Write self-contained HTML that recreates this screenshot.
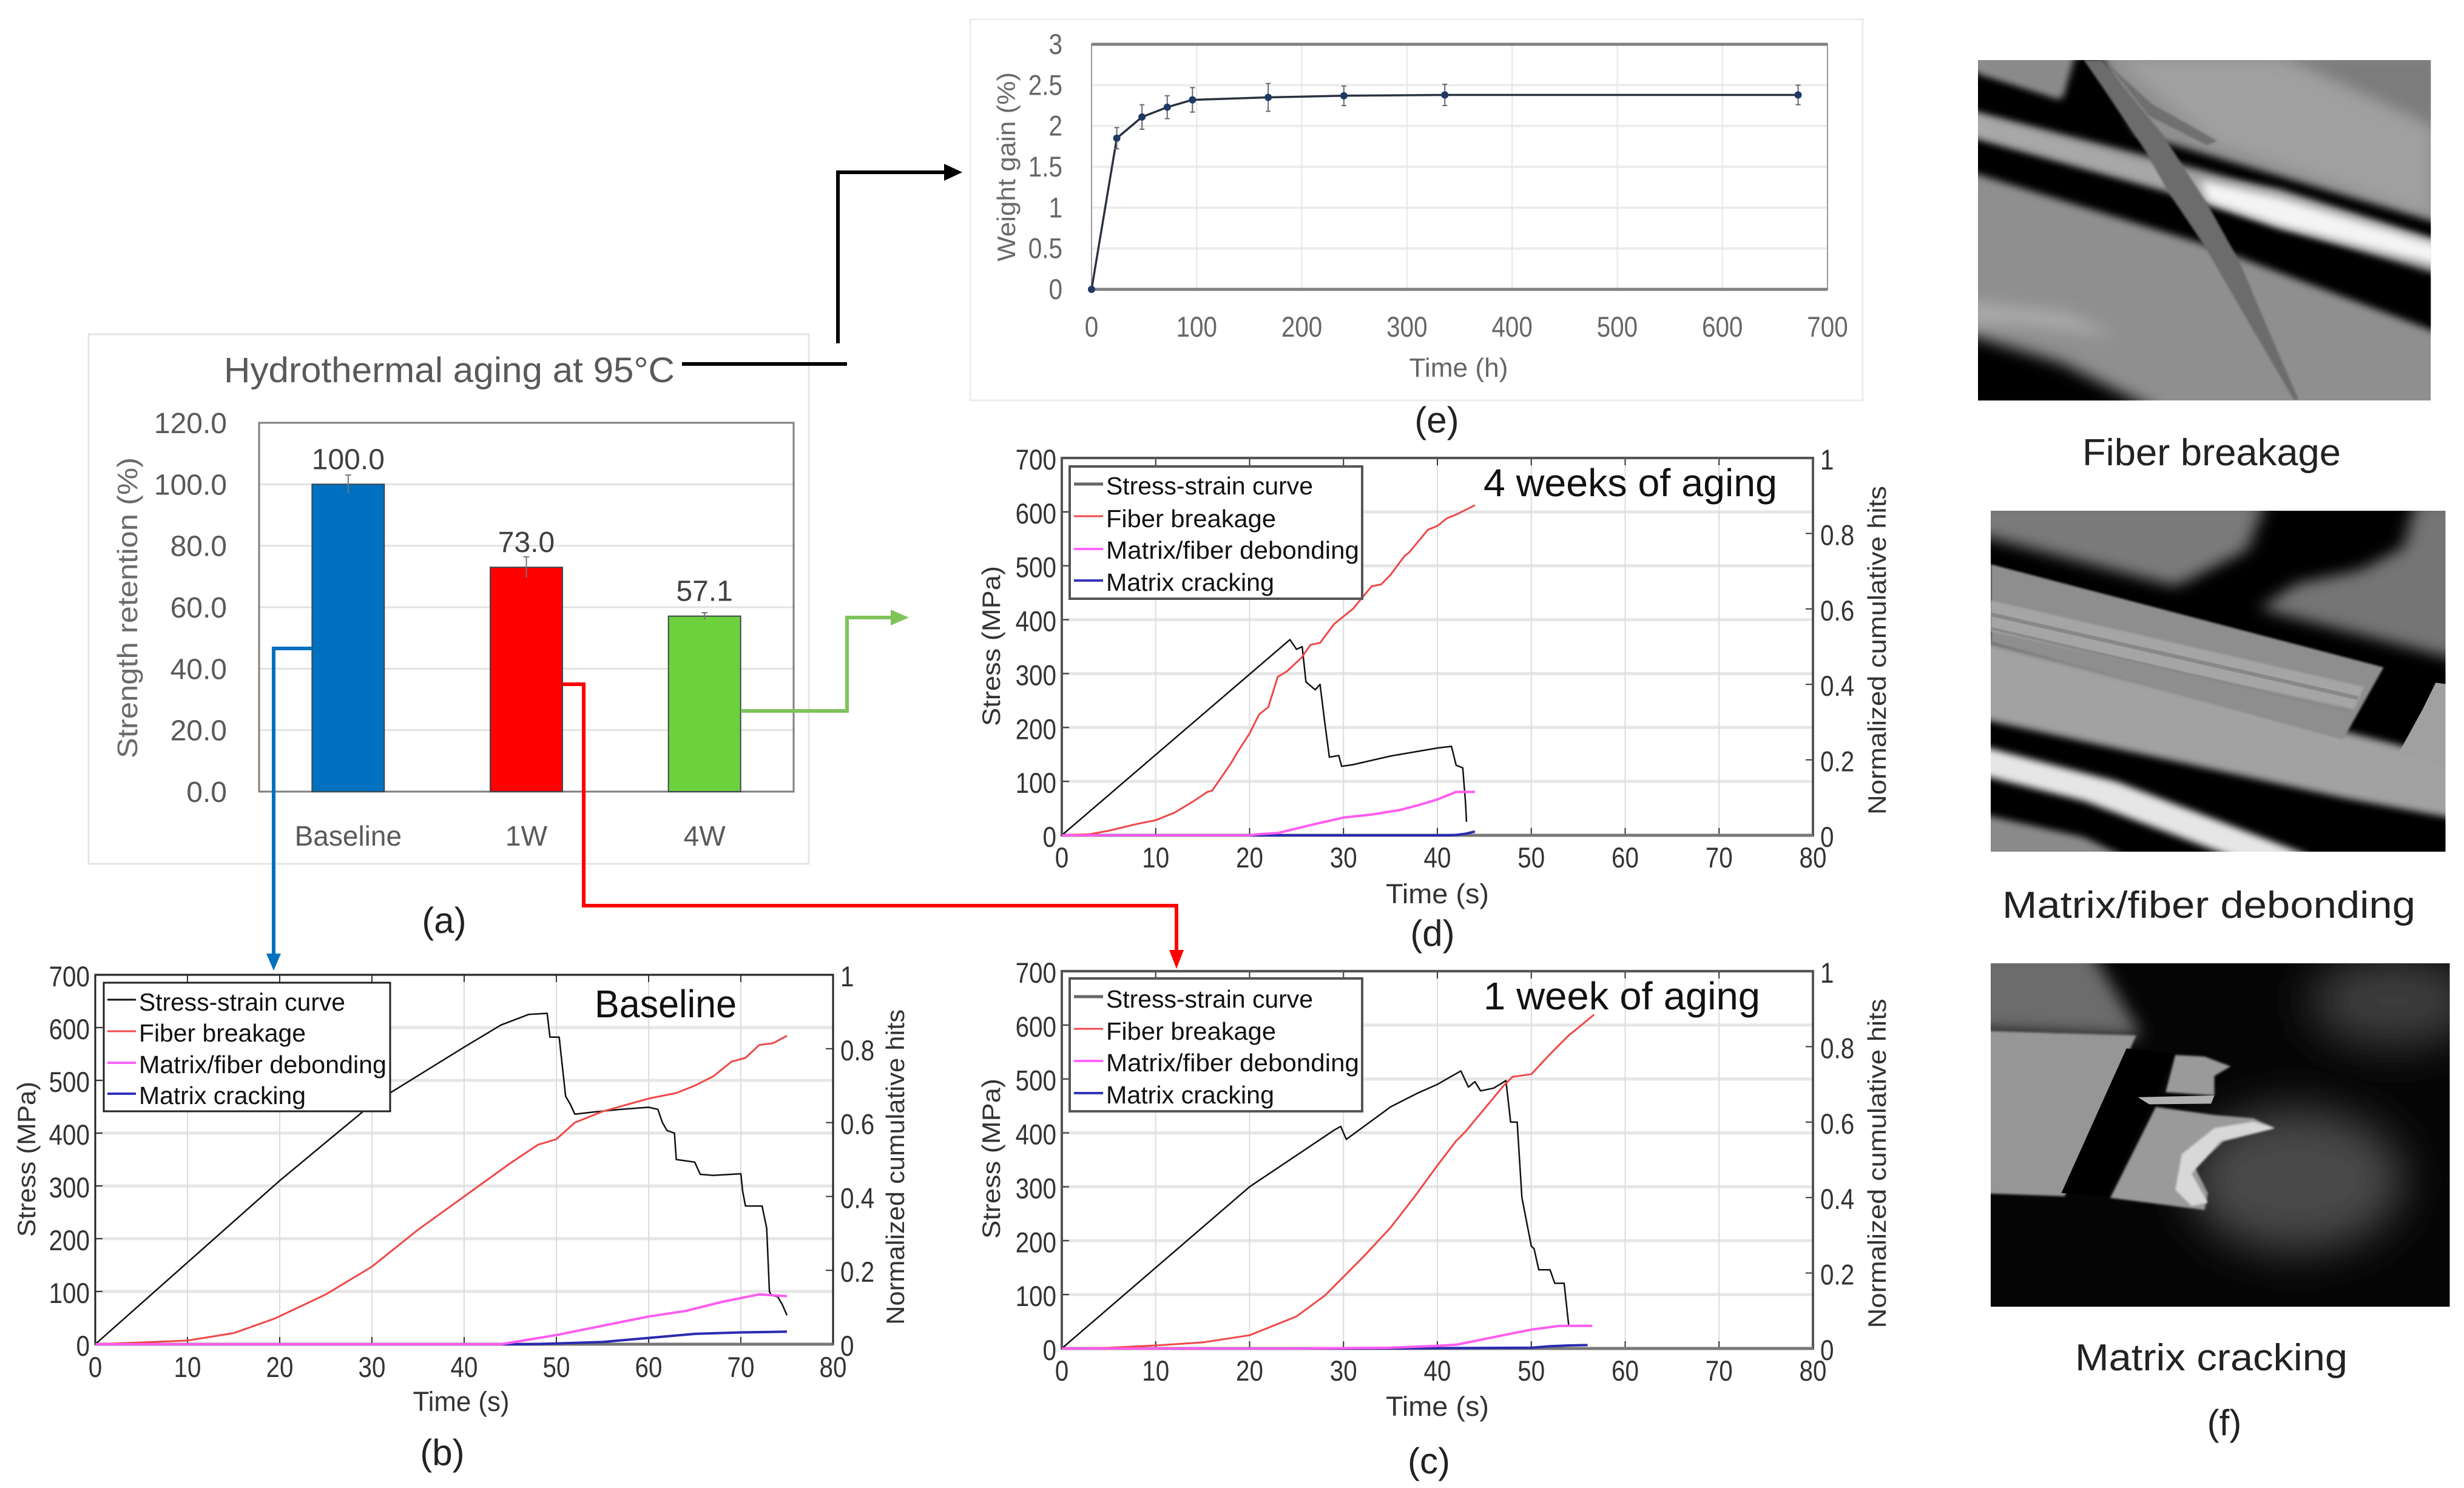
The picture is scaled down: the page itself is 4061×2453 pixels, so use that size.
<!DOCTYPE html>
<html lang="en">
<head>
<meta charset="utf-8">
<title>Hydrothermal aging of composite: strength, acoustic emission and weight gain</title>
<style>
html,body{margin:0;padding:0;background:#fff;}
svg{display:block;font-family:"Liberation Sans",sans-serif;}
</style>
</head>
<body>
<svg id="figure" xmlns="http://www.w3.org/2000/svg" width="4061" height="2453" viewBox="0 0 4061 2453">
<defs>
  <filter id="blur-xs" x="-20%" y="-20%" width="140%" height="140%"><feGaussianBlur stdDeviation="3.5"/></filter>
  <filter id="blur-s" x="-30%" y="-30%" width="160%" height="160%"><feGaussianBlur stdDeviation="13"/></filter>
  <filter id="blur-m" x="-30%" y="-30%" width="160%" height="160%"><feGaussianBlur stdDeviation="26"/></filter>
  <filter id="blur-l" x="-50%" y="-50%" width="200%" height="200%"><feGaussianBlur stdDeviation="70"/></filter>
  <clipPath id="clip-img1"><rect x="75" y="60" width="1391" height="1158"/></clipPath>
  <clipPath id="clip-img2"><rect x="113" y="48" width="1397" height="1224"/></clipPath>
  <clipPath id="clip-img3"><rect x="113" y="53" width="1410" height="1057"/></clipPath>
</defs>
<rect width="4061" height="2453" fill="#fff"/>

<!-- Panel (a) -->
<g>
  <rect x="146" y="551" width="1187" height="873" fill="#fff" stroke="#e4e4e4" stroke-width="3"/>
  <text x="369" y="630" font-size="58" fill="#595959" textLength="743" lengthAdjust="spacingAndGlyphs">Hydrothermal aging at 95°C</text>
  <g id="chart-a"></g>
  <text x="0" y="0" transform="translate(226,1002) rotate(-90)" text-anchor="middle" font-size="46" fill="#6a6a6a" textLength="496" lengthAdjust="spacingAndGlyphs">Strength retention (%)</text>
  <text x="732" y="1538" text-anchor="middle" font-size="60" fill="#222">(a)</text>
</g>

<!-- Panel (e) -->
<g>
  <rect x="1599" y="32" width="1471" height="628" fill="#fff" stroke="#ececec" stroke-width="3"/>
  <g id="chart-e"></g>
  <text x="0" y="0" transform="translate(1673,275) rotate(-90)" text-anchor="middle" font-size="42" fill="#6a6a6a" textLength="312" lengthAdjust="spacingAndGlyphs">Weight gain (%)</text>
  <text x="2404" y="621" text-anchor="middle" font-size="44" fill="#666" textLength="163" lengthAdjust="spacingAndGlyphs">Time (h)</text>
  <text x="2368" y="713" text-anchor="middle" font-size="60" fill="#222">(e)</text>
</g>

<!-- Panel (b) -->
<g>
  <g id="chart-b"></g>
  <g>
    <rect x="171" y="1620" width="472" height="212" fill="#fff" stroke="#222" stroke-width="3"/>
    <line x1="177" x2="224" y1="1648" y2="1648" stroke="#111" stroke-width="3"/>
    <text x="229" y="1666" font-size="41" fill="#111" textLength="340" lengthAdjust="spacingAndGlyphs">Stress-strain curve</text>
    <line x1="177" x2="224" y1="1700" y2="1700" stroke="#f04848" stroke-width="3"/>
    <text x="229" y="1717" font-size="41" fill="#111" textLength="275" lengthAdjust="spacingAndGlyphs">Fiber breakage</text>
    <line x1="177" x2="224" y1="1752" y2="1752" stroke="#ff66ff" stroke-width="4"/>
    <text x="229" y="1769" font-size="41" fill="#111" textLength="408" lengthAdjust="spacingAndGlyphs">Matrix/fiber debonding</text>
    <line x1="177" x2="224" y1="1803" y2="1803" stroke="#3333bb" stroke-width="4"/>
    <text x="229" y="1820" font-size="41" fill="#111" textLength="275" lengthAdjust="spacingAndGlyphs">Matrix cracking</text>
  </g>
  <text x="980" y="1677" font-size="64" fill="#111" textLength="234" lengthAdjust="spacingAndGlyphs">Baseline</text>
  <text x="0" y="0" transform="translate(58,1911) rotate(-90)" text-anchor="middle" font-size="42" fill="#333" textLength="256" lengthAdjust="spacingAndGlyphs">Stress (MPa)</text>
  <text x="0" y="0" transform="translate(1490,1924) rotate(-90)" text-anchor="middle" font-size="42" fill="#333" textLength="520" lengthAdjust="spacingAndGlyphs">Normalized cumulative hits</text>
  <text x="760" y="2326" text-anchor="middle" font-size="45" fill="#333" textLength="159" lengthAdjust="spacingAndGlyphs">Time (s)</text>
  <text x="729" y="2415" text-anchor="middle" font-size="60" fill="#222">(b)</text>
</g>

<!-- Panel (d) -->
<g>
  <g id="chart-d"></g>
  <g>
    <rect x="1763" y="769" width="482" height="218" fill="#fff" stroke="#555" stroke-width="4"/>
    <line x1="1770" x2="1818" y1="798" y2="798" stroke="#666" stroke-width="5"/>
    <text x="1823" y="815" font-size="41" fill="#111" textLength="341" lengthAdjust="spacingAndGlyphs">Stress-strain curve</text>
    <line x1="1770" x2="1818" y1="851" y2="851" stroke="#f04848" stroke-width="3"/>
    <text x="1823" y="869" font-size="41" fill="#111" textLength="280" lengthAdjust="spacingAndGlyphs">Fiber breakage</text>
    <line x1="1770" x2="1818" y1="905" y2="905" stroke="#ff66ff" stroke-width="4"/>
    <text x="1823" y="921" font-size="41" fill="#111" textLength="417" lengthAdjust="spacingAndGlyphs">Matrix/fiber debonding</text>
    <line x1="1770" x2="1818" y1="957" y2="957" stroke="#3333bb" stroke-width="4"/>
    <text x="1823" y="974" font-size="41" fill="#111" textLength="277" lengthAdjust="spacingAndGlyphs">Matrix cracking</text>
  </g>
  <text x="2445" y="818" font-size="64" fill="#111" textLength="484" lengthAdjust="spacingAndGlyphs">4 weeks of aging</text>
  <text x="0" y="0" transform="translate(1648,1065) rotate(-90)" text-anchor="middle" font-size="42" fill="#333" textLength="264" lengthAdjust="spacingAndGlyphs">Stress (MPa)</text>
  <text x="0" y="0" transform="translate(3108,1072) rotate(-90)" text-anchor="middle" font-size="42" fill="#333" textLength="542" lengthAdjust="spacingAndGlyphs">Normalized cumulative hits</text>
  <text x="2369" y="1489" text-anchor="middle" font-size="45" fill="#333" textLength="170" lengthAdjust="spacingAndGlyphs">Time (s)</text>
  <text x="2361" y="1559" text-anchor="middle" font-size="60" fill="#222">(d)</text>
</g>

<!-- Panel (c) -->
<g>
  <g id="chart-c"></g>
  <g>
    <rect x="1763" y="1613" width="482" height="219" fill="#fff" stroke="#555" stroke-width="4"/>
    <line x1="1770" x2="1818" y1="1643" y2="1643" stroke="#666" stroke-width="5"/>
    <text x="1823" y="1661" font-size="41" fill="#111" textLength="341" lengthAdjust="spacingAndGlyphs">Stress-strain curve</text>
    <line x1="1770" x2="1818" y1="1696" y2="1696" stroke="#f04848" stroke-width="3"/>
    <text x="1823" y="1714" font-size="41" fill="#111" textLength="280" lengthAdjust="spacingAndGlyphs">Fiber breakage</text>
    <line x1="1770" x2="1818" y1="1749" y2="1749" stroke="#ff66ff" stroke-width="4"/>
    <text x="1823" y="1766" font-size="41" fill="#111" textLength="417" lengthAdjust="spacingAndGlyphs">Matrix/fiber debonding</text>
    <line x1="1770" x2="1818" y1="1802" y2="1802" stroke="#3333bb" stroke-width="4"/>
    <text x="1823" y="1819" font-size="41" fill="#111" textLength="277" lengthAdjust="spacingAndGlyphs">Matrix cracking</text>
  </g>
  <text x="2445" y="1664" font-size="64" fill="#111" textLength="456" lengthAdjust="spacingAndGlyphs">1 week of aging</text>
  <text x="0" y="0" transform="translate(1648,1910) rotate(-90)" text-anchor="middle" font-size="42" fill="#333" textLength="264" lengthAdjust="spacingAndGlyphs">Stress (MPa)</text>
  <text x="0" y="0" transform="translate(3108,1918) rotate(-90)" text-anchor="middle" font-size="42" fill="#333" textLength="543" lengthAdjust="spacingAndGlyphs">Normalized cumulative hits</text>
  <text x="2369" y="2334" text-anchor="middle" font-size="45" fill="#333" textLength="170" lengthAdjust="spacingAndGlyphs">Time (s)</text>
  <text x="2355" y="2429" text-anchor="middle" font-size="60" fill="#222">(c)</text>
</g>

<!-- Connectors -->
<g fill="none" stroke-width="6">
  <polyline points="1124,600 1396,600" stroke="#000"/>
  <polyline points="1381,566 1381,284 1560,284" stroke="#000"/>
  <polygon points="1586,284 1556,270 1556,298" fill="#000" stroke="none"/>
  <polyline points="514,1069 451,1069 451,1576" stroke="#0070c0"/>
  <polygon points="451,1600 439,1572 463,1572" fill="#0070c0" stroke="none"/>
  <polyline points="927,1128 962,1128 962,1493 1939,1493 1939,1570" stroke="#ff0000"/>
  <polygon points="1939,1597 1927,1566 1951,1566" fill="#ff0000" stroke="none"/>
  <polyline points="1221,1172 1396,1172 1396,1018 1472,1018" stroke="#7fc35a"/>
  <polygon points="1498,1018 1468,1005 1468,1031" fill="#7fc35a" stroke="none"/>
</g>

<!-- Micrograph 1 -->
<g transform="translate(3260,99) scale(.5365,.4847) translate(-75,-60)" clip-path="url(#clip-img1)">
  <rect x="75" y="60" width="1391" height="1158" fill="#8f8f8f"/>
  <polygon points="500,60 1466,60 1466,590 800,340" fill="#a0a0a0" filter="url(#blur-m)"/>
  <polygon points="1000,40 1500,40 1500,300" fill="#7c7c7c" filter="url(#blur-m)"/>
  <polygon points="20,80 330,195 375,40 450,40 560,310 1520,625 1520,690 750,430 20,225" fill="#000" filter="url(#blur-s)"/>
  <polygon points="75,40 350,40 330,180 75,100" fill="#8a8a8a" filter="url(#blur-s)"/>
  <polygon points="20,310 700,520 1520,800 1520,1000 780,690 20,430" fill="#000" filter="url(#blur-s)"/>
  <polygon points="40,235 700,440 1000,500 1500,680 1500,770 1000,630 700,510 40,310" fill="#a8a8a8" filter="url(#blur-s)"/>
  <polygon points="760,470 1000,530 1500,695 1500,760 1000,620 780,540" fill="#f4f4f4" filter="url(#blur-s)"/>
  <polygon points="20,985 330,1090 640,1260 20,1260" fill="#000" filter="url(#blur-m)"/>
  <polygon points="40,880 350,920 500,1000 200,960 40,960" fill="#aaaaaa" filter="url(#blur-m)"/>
  <polygon points="400,60 455,60 640,310 780,550 880,750 960,960 1060,1215 1045,1215 900,940 770,690 660,510 590,370 450,140" fill="#6c6c6c" filter="url(#blur-xs)"/>
  <polygon points="470,70 610,210 810,335 780,350 600,250" fill="#707070" filter="url(#blur-xs)"/>
</g>
<text x="3432" y="767" font-size="62" fill="#222" textLength="426" lengthAdjust="spacingAndGlyphs">Fiber breakage</text>

<!-- Micrograph 2 -->
<g transform="translate(3281,842) scale(.5365,.4592) translate(-113,-48)" clip-path="url(#clip-img2)">
  <rect x="113" y="48" width="1397" height="1224" fill="#000"/>
  <polygon points="60,10 960,10 900,190 680,320 60,130" fill="#7a7a7a" filter="url(#blur-m)"/>
  <polygon points="1420,10 1570,10 1570,590 940,400 1050,310 1250,260 1380,180" fill="#757575" filter="url(#blur-m)"/>
  <polygon points="60,500 1570,950 1570,1160 1200,1080 60,790" fill="#a2a2a2" filter="url(#blur-s)"/>
  <polygon points="113,240 1320,610 1195,870 113,520" fill="#8e8e8e" filter="url(#blur-xs)"/>
  <polygon points="113,370 1260,680 1230,760 113,480" fill="#a5a5a5" filter="url(#blur-xs)"/>
  <polyline points="113,420 1240,720" stroke="#888" stroke-width="14" fill="none"/>
  <polyline points="113,470 1220,770" stroke="#8a8a8a" stroke-width="10" fill="none"/>
  <polygon points="60,885 500,1020 1100,1290 900,1310 400,1090 60,990" fill="#e6e6e6" filter="url(#blur-s)"/>
  <polygon points="60,1130 400,1220 560,1310 60,1310" fill="#8a8a8a" filter="url(#blur-s)"/>
  <polygon points="1480,665 1510,670 1510,960 1365,920 1440,760" fill="#a0a0a0"/>
</g>
<text x="3300" y="1513" font-size="62" fill="#222" textLength="681" lengthAdjust="spacingAndGlyphs">Matrix/fiber debonding</text>

<!-- Micrograph 3 -->
<g transform="translate(3281,1588) scale(.5365,.5357) translate(-113,-53)" clip-path="url(#clip-img3)">
  <rect x="113" y="53" width="1410" height="1057" fill="#050505"/>
  <ellipse cx="1050" cy="720" rx="330" ry="220" fill="#484848" filter="url(#blur-l)"/>
  <ellipse cx="1350" cy="170" rx="260" ry="140" fill="#3c3c3c" filter="url(#blur-l)"/>
  <polygon points="50,-20 400,-20 580,280 50,260" fill="#6c6c6c" filter="url(#blur-m)"/>
  <polygon points="60,260 560,275 340,770 60,760" fill="#969696" filter="url(#blur-xs)"/>
  <polygon points="530,315 680,330 470,770 330,760" fill="#000"/>
  <polygon points="680,335 770,340 850,370 800,400 800,460 650,450" fill="#9a9a9a" filter="url(#blur-xs)"/>
  <polygon points="620,495 800,520 920,530 985,560 830,600 740,680 780,760 770,812 480,775" fill="#9a9a9a" filter="url(#blur-xs)"/>
  <polygon points="700,640 800,560 920,540 985,560 820,600 730,700 780,790 730,800 680,750" fill="#d8d8d8" filter="url(#blur-xs)"/>
  <polygon points="565,465 800,460 790,485 600,487" fill="#b0b0b0"/>
</g>
<text x="3420" y="2259" font-size="62" fill="#222" textLength="449" lengthAdjust="spacingAndGlyphs">Matrix cracking</text>
<text x="3666" y="2366" text-anchor="middle" font-size="60" fill="#222">(f)</text>

<script>
// ---- Panel (a) data ----
var retentionCategories = ['Baseline', '1W', '4W'];
var retentionValues = [100.0, 73.0, 57.1];
var retentionLabels = ['100.0', '73.0', '57.1'];
var retentionErrors = [3.0, 3.4, 1.1];
var retentionColors = ['#0070c0', '#ff0000', '#6dd03d'];
var retentionTicks = [0, 20, 40, 60, 80, 100, 120];
var retentionTickLabels = ['0.0', '20.0', '40.0', '60.0', '80.0', '100.0', '120.0'];

// ---- Panel (e) data ----
var weightHours = [0, 24, 48, 72, 96, 168, 240, 336, 672];
var weightGain = [0, 1.85, 2.11, 2.23, 2.32, 2.35, 2.37, 2.38, 2.38];
var weightErrors = [0, 0.13, 0.15, 0.14, 0.15, 0.17, 0.12, 0.13, 0.12];
var weightXTicks = [0, 100, 200, 300, 400, 500, 600, 700];
var weightYTicks = [0, 0.5, 1, 1.5, 2, 2.5, 3];
var weightYTickLabels = ['0', '0.5', '1', '1.5', '2', '2.5', '3'];

// ---- Shared axes for panels (b), (c), (d) ----
var timeTicks = [0, 10, 20, 30, 40, 50, 60, 70, 80];
var stressTicks = [0, 100, 200, 300, 400, 500, 600, 700];
var hitsTicks = [0, 0.2, 0.4, 0.6, 0.8, 1];
var hitsTickLabels = ['0', '0.2', '0.4', '0.6', '0.8', '1'];

// ---- Panel (b) data: baseline ----
var bStressTime = [0, 10, 20, 30, 40, 44, 47, 49, 49.3, 50.3, 50.5, 51, 51.5, 52, 54, 57, 60, 61, 61.5, 62, 62.8, 63, 65, 65.6, 67, 70, 70.2, 70.5, 72.3, 72.8, 73.1, 73.3, 74, 74.5, 75];
var bStressValues = [0, 155, 310, 455, 563, 605, 625, 627, 582, 582, 550, 470, 455, 436, 440, 445, 449, 445, 420, 405, 400, 350, 345, 322, 320, 323, 290, 262, 262, 220, 100, 93, 90, 75, 55];
var bFiberTime = [0, 5, 10, 15, 19.5, 25, 30, 35, 40, 45, 48, 50, 52, 55, 60, 63, 65, 67, 69, 70.5, 72, 73.5, 75];
var bFiberValues = [0, 0.005, 0.01, 0.03, 0.07, 0.135, 0.21, 0.31, 0.4, 0.49, 0.54, 0.555, 0.6, 0.63, 0.665, 0.68, 0.7, 0.725, 0.765, 0.775, 0.81, 0.815, 0.835];
var bDebondTime = [0, 44, 50, 55, 60, 64, 68, 72, 75];
var bDebondValues = [0, 0, 0.025, 0.05, 0.075, 0.09, 0.115, 0.135, 0.13];
var bCrackTime = [0, 47, 50, 55, 60, 65, 70, 75];
var bCrackValues = [0, 0, 0.002, 0.006, 0.017, 0.028, 0.032, 0.034];

// ---- Panel (c) data: 1 week ----
var cStressTime = [0, 10, 20, 29, 29.7, 30.3, 35, 37.8, 40, 42.5, 43.3, 44, 44.6, 46, 47.3, 47.8, 48.5, 49, 50, 50.3, 50.8, 52, 52.5, 53.5, 54];
var cStressValues = [0, 150, 300, 405, 412, 388, 448, 473, 490, 515, 485, 495, 478, 483, 497, 420, 420, 280, 190, 185, 146, 146, 121, 121, 40];
var cFiberTime = [0, 5, 10, 15, 20, 25, 28, 30, 32, 35, 37.5, 40, 42, 43, 45, 47, 48, 50, 52, 54, 55, 56.7];
var cFiberValues = [0, 0.002, 0.008, 0.016, 0.035, 0.085, 0.14, 0.19, 0.24, 0.32, 0.4, 0.485, 0.55, 0.575, 0.635, 0.695, 0.72, 0.727, 0.78, 0.83, 0.85, 0.885];
var cDebondTime = [0, 26, 30, 35, 40, 42, 45, 48, 50, 53, 56.5];
var cDebondValues = [0, 0, 0.001, 0.002, 0.007, 0.01, 0.025, 0.04, 0.05, 0.06, 0.06];
var cCrackTime = [0, 33, 40, 50, 52, 54, 56];
var cCrackValues = [0, 0, 0.001, 0.002, 0.006, 0.008, 0.009];

// ---- Panel (d) data: 4 weeks ----
var dStressTime = [0, 24.3, 25, 25.6, 26, 26.3, 27, 27.5, 28, 28.5, 29.5, 29.8, 31, 35, 40, 41.5, 42, 42.7, 43, 43.1];
var dStressValues = [0, 363, 345, 350, 285, 280, 270, 280, 210, 145, 148, 128, 131, 147, 162, 165, 130, 125, 60, 25];
var dFiberTime = [0, 3, 5, 8, 10, 12, 14, 15.5, 16, 18, 18.7, 20, 21, 22, 23, 24, 25.5, 26.5, 27.5, 29, 30, 31, 33, 34, 35, 36.5, 37, 38, 39, 40, 41, 42, 44];
var dFiberValues = [0, 0.003, 0.012, 0.03, 0.04, 0.06, 0.09, 0.115, 0.118, 0.19, 0.22, 0.27, 0.32, 0.34, 0.42, 0.435, 0.47, 0.505, 0.51, 0.56, 0.58, 0.6, 0.66, 0.665, 0.69, 0.74, 0.75, 0.78, 0.81, 0.82, 0.84, 0.85, 0.875];
var dDebondTime = [0, 20, 21, 23, 25, 27, 30, 33, 36, 38, 40, 42, 44];
var dDebondValues = [0, 0, 0.003, 0.006, 0.018, 0.03, 0.047, 0.055, 0.067, 0.08, 0.095, 0.115, 0.115];
var dCrackTime = [0, 41, 42, 43, 44];
var dCrackValues = [0, 0, 0.001, 0.004, 0.01];

// ---- Drawing helpers ----
var SVGNS = 'http://www.w3.org/2000/svg';
var FONT_NUM = 47;

function make(tag, parent, attrs) {
  var el = document.createElementNS(SVGNS, tag);
  for (var k in attrs) { el.setAttribute(k, attrs[k]); }
  parent.appendChild(el);
  return el;
}
function makeText(parent, str, attrs) {
  var el = make('text', parent, attrs);
  el.textContent = str;
  return el;
}
// Narrow numeric labels: squeeze glyphs horizontally the way the reference font reads.
function numWidth(str, size) {
  var em = 0;
  for (var i = 0; i < str.length; i++) { em += str.charAt(i) === '.' ? 0.278 : 0.556; }
  return (em * size * 0.86).toFixed(1);
}

// ---- Stress / AE panels ----
var xMax = 80, stressMax = 700, hitsMax = 1;
function timeX(p, t) { return p.left + (p.right - p.left) * t / xMax; }
function stressY(p, v) { return p.bottom - (p.bottom - p.top) * v / stressMax; }
function hitsY(p, v) { return p.bottom - (p.bottom - p.top) * v / hitsMax; }

function drawSeries(p, group, times, values, scale, color, width, name) {
  var pts = [];
  for (var i = 0; i < times.length; i++) {
    pts.push(timeX(p, times[i]).toFixed(1) + ',' + scale(p, values[i]).toFixed(1));
  }
  var el = make('polyline', group, {points: pts.join(' '), fill: 'none', stroke: color, 'stroke-width': width, 'stroke-linejoin': 'round'});
  
  
}

function drawAcousticPanel(id, p, data) {
  var g = document.getElementById(id);
  var i, el, x, y, s;
  for (i = 0; i < stressTicks.length; i++) {
    y = stressY(p, stressTicks[i]);
    s = String(stressTicks[i]);
    el = make('line', g, {x1: p.left, x2: p.right, y1: y, y2: y, stroke: '#e6e6e6', 'stroke-width': 5});
    
    
    el = make('line', g, {x1: p.left, x2: p.left + 12, y1: y, y2: y, stroke: '#333', 'stroke-width': 2});
    
    
    el = makeText(g, s, {x: p.left - 9, y: y + 19, 'text-anchor': 'end', 'font-size': FONT_NUM, fill: '#333', textLength: numWidth(s, FONT_NUM), lengthAdjust: 'spacingAndGlyphs'});
    
    
  }
  for (i = 0; i < timeTicks.length; i++) {
    x = timeX(p, timeTicks[i]);
    s = String(timeTicks[i]);
    el = make('line', g, {x1: x, x2: x, y1: p.top, y2: p.bottom, stroke: '#dcdcdc', 'stroke-width': 2});
    
    
    el = make('line', g, {x1: x, x2: x, y1: p.top, y2: p.top + 12, stroke: '#333', 'stroke-width': 2});
    
    
    el = make('line', g, {x1: x, x2: x, y1: p.bottom - 12, y2: p.bottom, stroke: '#333', 'stroke-width': 2});
    
    
    el = makeText(g, s, {x: x, y: p.labelY, 'text-anchor': 'middle', 'font-size': FONT_NUM, fill: '#333', textLength: numWidth(s, FONT_NUM), lengthAdjust: 'spacingAndGlyphs'});
    
    
  }
  for (i = 0; i < hitsTicks.length; i++) {
    y = hitsY(p, hitsTicks[i]);
    s = hitsTickLabels[i];
    el = make('line', g, {x1: p.right - 12, x2: p.right, y1: y, y2: y, stroke: '#333', 'stroke-width': 2});
    
    
    el = makeText(g, s, {x: p.right + 12, y: y + 19, 'font-size': FONT_NUM, fill: '#333', textLength: numWidth(s, FONT_NUM), lengthAdjust: 'spacingAndGlyphs'});
    
    
  }
  el = make('rect', g, {x: p.left, y: p.top, width: p.right - p.left, height: p.bottom - p.top, fill: 'none', stroke: p.frame, 'stroke-width': p.frameWidth});
  
  
  el = make('line', g, {x1: p.left, x2: p.right, y1: p.bottom, y2: p.bottom, stroke: '#777', 'stroke-width': 5});
  
  

  drawSeries(p, g, data.stressTime, data.stress, stressY, '#111', 2.5, 'stress-strain-curve');
  drawSeries(p, g, data.fiberTime, data.fiber, hitsY, '#f04848', 3, 'fiber-breakage-curve');
  drawSeries(p, g, data.crackTime, data.crack, hitsY, '#2a2ab0', 4, 'matrix-cracking-curve');
  drawSeries(p, g, data.debondTime, data.debond, hitsY, '#ff5cf0', 4, 'matrix-fiber-debonding-curve');
}

drawAcousticPanel('chart-b',
  {left: 157, right: 1373, top: 1607, bottom: 2216, labelY: 2270, frame: '#222', frameWidth: 3},
  {stressTime: bStressTime, stress: bStressValues, fiberTime: bFiberTime, fiber: bFiberValues, debondTime: bDebondTime, debond: bDebondValues, crackTime: bCrackTime, crack: bCrackValues});
drawAcousticPanel('chart-c',
  {left: 1750, right: 2988, top: 1601, bottom: 2223, labelY: 2276, frame: '#555', frameWidth: 4},
  {stressTime: cStressTime, stress: cStressValues, fiberTime: cFiberTime, fiber: cFiberValues, debondTime: cDebondTime, debond: cDebondValues, crackTime: cCrackTime, crack: cCrackValues});
drawAcousticPanel('chart-d',
  {left: 1750, right: 2988, top: 755, bottom: 1377, labelY: 1430, frame: '#555', frameWidth: 4},
  {stressTime: dStressTime, stress: dStressValues, fiberTime: dFiberTime, fiber: dFiberValues, debondTime: dDebondTime, debond: dDebondValues, crackTime: dCrackTime, crack: dCrackValues});

// ---- Panel (a) ----
(function () {
  var g = document.getElementById('chart-a');
  var p = {left: 427, right: 1308, top: 697, bottom: 1305, yMax: 120};
  function valueY(v) { return p.bottom - (p.bottom - p.top) * v / p.yMax; }
  function catX(i) { return p.left + (p.right - p.left) * (i + 0.5) / retentionCategories.length; }
  var barWidth = 119, i, el, y, x;
  for (i = 0; i < retentionTicks.length; i++) {
    y = valueY(retentionTicks[i]);
    el = make('line', g, {x1: p.left, x2: p.right, y1: y, y2: y, stroke: '#e2e2e2', 'stroke-width': 3});
    
    
    el = makeText(g, retentionTickLabels[i], {x: 374, y: y + 17, 'text-anchor': 'end', 'font-size': 48, fill: '#595959'});
    
    
  }
  el = make('rect', g, {x: p.left, y: p.top, width: p.right - p.left, height: p.bottom - p.top, fill: 'none', stroke: '#7f7f7f', 'stroke-width': 3});
  
  
  for (i = 0; i < retentionValues.length; i++) {
    x = catX(i);
    y = valueY(retentionValues[i]);
    el = make('rect', g, {x: x - barWidth / 2, y: y, width: barWidth, height: p.bottom - y, fill: retentionColors[i], stroke: '#3a4a55', 'stroke-width': 2});
    
    
    el = make('line', g, {x1: x, x2: x, y1: valueY(retentionValues[i] + retentionErrors[i]), y2: valueY(retentionValues[i] - retentionErrors[i]), stroke: '#777', 'stroke-width': 2});
    
    
    el = make('line', g, {x1: x - 5, x2: x + 5, y1: valueY(retentionValues[i] + retentionErrors[i]), y2: valueY(retentionValues[i] + retentionErrors[i]), stroke: '#777', 'stroke-width': 2});
    
    
    el = makeText(g, retentionLabels[i], {x: x, y: valueY(retentionValues[i]) - 25, 'text-anchor': 'middle', 'font-size': 48, fill: '#404040'});
    
    
    el = makeText(g, retentionCategories[i], {x: x, y: 1394, 'text-anchor': 'middle', 'font-size': 46, fill: '#595959'});
    
    
  }
})();

// ---- Panel (e) ----
(function () {
  var g = document.getElementById('chart-e');
  var p = {left: 1799, right: 3012, top: 73, bottom: 477, xMax: 700, yMax: 3};
  function hoursX(h) { return p.left + (p.right - p.left) * h / p.xMax; }
  function gainY(v) { return p.bottom - (p.bottom - p.top) * v / p.yMax; }
  var i, el, x, y, s;
  for (i = 0; i < weightYTicks.length; i++) {
    y = gainY(weightYTicks[i]);
    s = weightYTickLabels[i];
    el = make('line', g, {x1: p.left, x2: p.right, y1: y, y2: y, stroke: '#ececec', 'stroke-width': 4});
    
    
    el = makeText(g, s, {x: 1751, y: y + 16, 'text-anchor': 'end', 'font-size': FONT_NUM, fill: '#666', textLength: numWidth(s, FONT_NUM), lengthAdjust: 'spacingAndGlyphs'});
    
    
  }
  for (i = 0; i < weightXTicks.length; i++) {
    x = hoursX(weightXTicks[i]);
    s = String(weightXTicks[i]);
    el = make('line', g, {x1: x, x2: x, y1: p.top, y2: p.bottom, stroke: '#e6e6e6', 'stroke-width': 2});
    
    
    el = makeText(g, s, {x: x, y: 555, 'text-anchor': 'middle', 'font-size': FONT_NUM, fill: '#666', textLength: numWidth(s, FONT_NUM), lengthAdjust: 'spacingAndGlyphs'});
    
    
  }
  el = make('rect', g, {x: p.left, y: p.top, width: p.right - p.left, height: p.bottom - p.top, fill: 'none', stroke: '#999', 'stroke-width': 2});
  
  
  el = make('line', g, {x1: p.left, x2: p.right, y1: p.top, y2: p.top, stroke: '#808080', 'stroke-width': 5});
  
  
  el = make('line', g, {x1: p.left, x2: p.right, y1: p.bottom, y2: p.bottom, stroke: '#808080', 'stroke-width': 5});
  
  

  var pts = [];
  for (i = 0; i < weightHours.length; i++) {
    pts.push(hoursX(weightHours[i]).toFixed(1) + ',' + gainY(weightGain[i]).toFixed(1));
  }
  el = make('polyline', g, {points: pts.join(' '), fill: 'none', stroke: '#2a3340', 'stroke-width': 3.5, 'stroke-linejoin': 'round'});
  
  

  for (i = 0; i < weightHours.length; i++) {
    x = hoursX(weightHours[i]);
    y = gainY(weightGain[i]);
    if (weightErrors[i] > 0) {
      var y1 = gainY(weightGain[i] + weightErrors[i]);
      var y2 = gainY(weightGain[i] - weightErrors[i]);
      el = make('line', g, {x1: x, x2: x, y1: y1, y2: y2, stroke: '#667', 'stroke-width': 2});
      
      
      el = make('line', g, {x1: x - 4, x2: x + 4, y1: y1, y2: y1, stroke: '#667', 'stroke-width': 2});
      
      
      el = make('line', g, {x1: x - 4, x2: x + 4, y1: y2, y2: y2, stroke: '#667', 'stroke-width': 2});
      
      
    }
    el = make('circle', g, {cx: x, cy: y, r: 6, fill: '#1f3864'});
    
    
  }
})();
</script>
</svg>
</body>
</html>
